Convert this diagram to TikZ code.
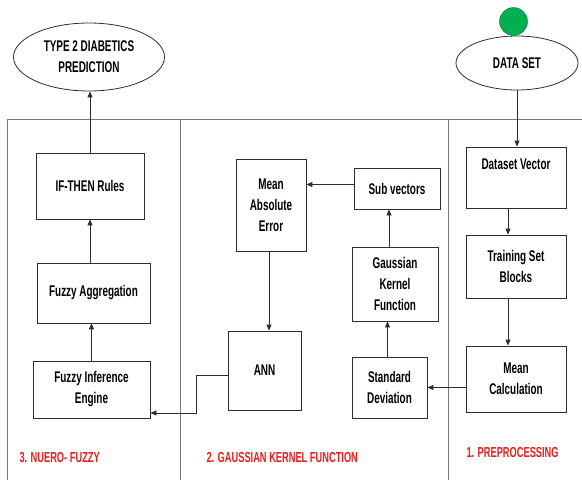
\documentclass[tikz,border=0pt]{standalone}
\usepackage{fontspec}
\setmainfont{Liberation Sans}[FakeStretch=0.64]
\usetikzlibrary{arrows.meta,positioning,shapes.geometric}
\definecolor{ink}{RGB}{45,45,45}
\definecolor{rule}{RGB}{120,120,120}
\definecolor{alert}{RGB}{230,30,30}
\definecolor{go}{RGB}{0,176,80}
\tikzset{
  >={Triangle[length=6pt,width=5pt]},
  stage/.style={draw=ink,fill=white,line width=0.8pt,inner sep=2pt,align=center,
    font=\fontsize{15.5}{21}\selectfont\bfseries},
  goal/.style={ellipse,draw=ink,fill=white,line width=0.8pt,inner sep=0pt,align=center,
    font=\fontsize{15.5}{21}\selectfont\bfseries},
  flow/.style={->,draw=ink,line width=0.8pt},
  frame/.style={draw=rule,line width=0.9pt},
  phase/.style={text=alert,anchor=west,font=\fontsize{14.5}{16}\selectfont\bfseries},
}
\begin{document}
\begin{tikzpicture}[x=1pt,y=-1pt]
  \useasboundingbox (0,0) rectangle (582,480);
  % frame and columns
  \draw[frame] (7,480) -- (7,119) -- (582,119);
  \draw[frame] (180,119) -- (180,480);
  \draw[frame] (448,119) -- (448,480);

  \node[goal,minimum width=151pt,minimum height=68pt] (pred) at (89,57) {TYPE 2 DIABETICS\\PREDICTION};
  \node[goal,minimum width=122pt,minimum height=54pt] (data) at (517,63) {DATA SET};
  \node[circle,draw=go!60!black,fill=go,minimum size=28pt,inner sep=0pt] (start) at (513.5,21.5) {};

  % 1. preprocessing
  \node[stage,minimum width=100pt,minimum height=61pt] (dsvec) at (516,177.5) {Dataset Vector\\ \strut};
  \node[stage,minimum width=100pt,minimum height=63pt] (train) at (516,266.5) {Training Set\\Blocks};
  \node[stage,minimum width=100pt,minimum height=66pt] (meancalc) at (516,379) {Mean\\Calculation};

  % 2. gaussian kernel function
  \node[stage,minimum width=75pt,minimum height=61pt] (stddev) at (389.5,387.5) {Standard\\Deviation};
  \node[stage,minimum width=86pt,minimum height=74pt] (gauss) at (395,284) {Gaussian\\Kernel\\Function};
  \node[stage,minimum width=86pt,minimum height=41pt] (subvec) at (397,188.5) {Sub vectors};
  \node[stage,minimum width=70pt,minimum height=92pt] (mae) at (271,205) {Mean\\Absolute\\Error};
  \node[stage,minimum width=73pt,minimum height=79pt] (ann) at (264.5,370.5) {ANN};

  % 3. neuro-fuzzy
  \node[stage,minimum width=117pt,minimum height=57pt] (fie) at (91.5,389.5) {Fuzzy Inference\\Engine};
  \node[stage,minimum width=113pt,minimum height=60pt] (fagg) at (93.5,293) {Fuzzy Aggregation};
  \node[stage,minimum width=108pt,minimum height=66pt] (rules) at (90,186) {IF-THEN Rules};

  \node[phase] (ph1) at (463,453) {1. PREPROCESSING};
  \node[phase] (ph2) at (203,458) {2. GAUSSIAN KERNEL FUNCTION};
  \node[phase] (ph3) at (16,458) {3. NUERO- FUZZY};

  \coordinate (bend) at (196,413);
  \draw[flow] (data.south) -- (data.south |- dsvec.north);
  \draw[flow] ([xshift=-8pt]dsvec.south) -- ([xshift=-8pt]train.north);
  \draw[flow] ([xshift=-8pt]train.south) -- ([xshift=-8pt]meancalc.north);
  \draw[flow] (meancalc.west |- stddev.east) -- (stddev.east);
  \draw[flow] ([xshift=-2pt]stddev.north) -- ([xshift=-2pt]stddev.north |- gauss.south);
  \draw[flow] ([xshift=-6pt]gauss.north) -- ([xshift=-6pt]gauss.north |- subvec.south);
  \draw[flow] ([yshift=4pt]subvec.west) -- ([yshift=4pt]subvec.west -| mae.east);
  \draw[flow] ([xshift=-2pt]mae.south) -- ([xshift=-2pt]mae.south |- ann.north);
  \draw[flow] ([yshift=-5pt]ann.west) -| (bend) -- (bend -| fie.east);
  \draw[flow] (fie.north) -- (fie.north |- fagg.south);
  \draw[flow] (rules.south |- fagg.north) -- (rules.south);
  \draw[flow] (rules.north) -- (rules.north |- pred.south);
\end{tikzpicture}
\end{document}
